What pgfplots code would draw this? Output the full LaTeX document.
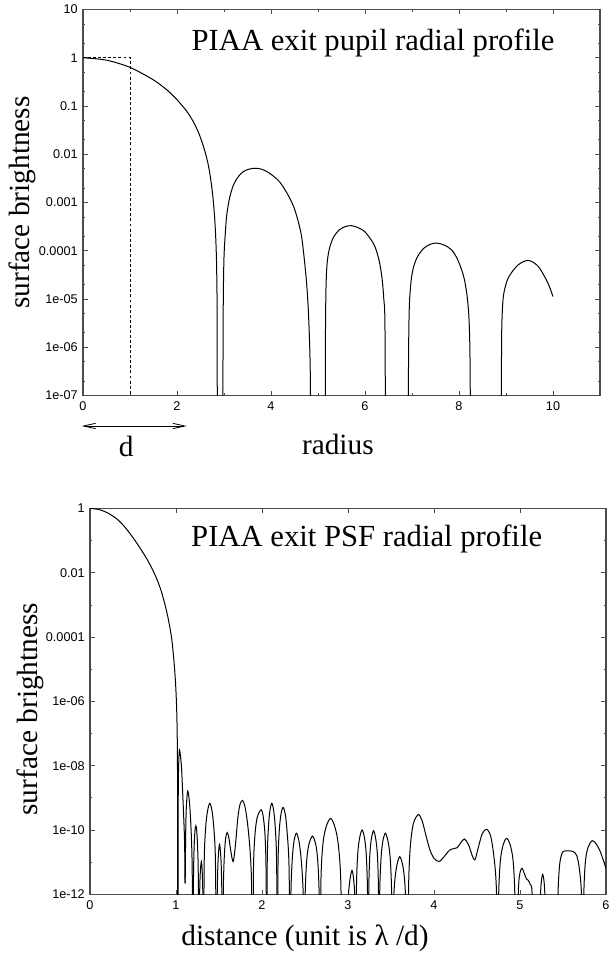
\documentclass[border=0pt]{standalone}
\usepackage{fontspec}
\setmainfont{Liberation Serif}
\setsansfont{Liberation Sans}
\usepackage{pgfplots}
\pgfplotsset{compat=1.18}
\usetikzlibrary{arrows.meta}

% y values are log10(surface brightness); ticks are labelled as on a log axis
\pgfplotsset{
  gp/.style={
    scale only axis,
    axis line style={black!70, line width=0.8pt},
    tick style={black!70, line width=0.6pt},
    tick align=inside,
    major tick length=3.4pt,
    minor tick length=1.8pt,
    ticklabel style={font=\sffamily\fontsize{9.5}{10}\selectfont, inner sep=0pt},
    xticklabel style={anchor=north, yshift=-4.5pt},
    yticklabel style={anchor=east, xshift=-3.8pt},
    label style={font=\fontsize{22}{24}\selectfont},
  },
  curve/.style={black, line width=0.75pt, smooth, tension=0.5},
}

\begin{document}
\begin{tikzpicture}
\useasboundingbox (0,0) rectangle (457.5pt,717pt);

% ---- top: exit pupil ----
\begin{axis}[gp,
  at={(62.25pt,420.375pt)}, anchor=south west,
  width=387.75pt, height=289.5pt,
  xmin=0, xmax=11, ymin=-7, ymax=1,
  xtick={0,2,...,10}, xticklabels={0,2,4,6,8,10},
  minor xtick={1,3,5,7,9},
  ytick={-7,...,1},
  yticklabels={1e-07,1e-06,1e-05,0.0001,0.001,0.01,0.1,1,10},
  minor ytick={-6.699,-6.301,-5.699,-5.301,-4.699,-4.301,-3.699,-3.301,
               -2.699,-2.301,-1.699,-1.301,-0.699,-0.301,0.301,0.699},
  xlabel={radius},
  xlabel style={at={(axis description cs:0.493,-0.154)}, anchor=base},
  ylabel={surface brightness},
  ylabel style={at={(axis description cs:-0.118,0.5)}, anchor=center},
]
\addplot[black, line width=0.6pt, dash pattern=on 2.2pt off 1.6pt]
  coordinates {(0,0) (1,0) (1,-7.5)};

\addplot[curve] coordinates {
  (0,0) (0.5,-0.05) (1.0,-0.2) (1.5,-0.46) (1.8,-0.68) (2.0,-0.87)
  (2.2,-1.1) (2.35,-1.33) (2.47,-1.58) (2.57,-1.86) (2.65,-2.15)
  (2.71,-2.47) (2.76,-2.85) (2.80,-3.3) (2.825,-3.75) (2.84,-4.2)
  (2.85,-4.8) (2.855,-5.6) (2.858,-9)
};
\addplot[curve] coordinates {
  (2.975,-9) (2.978,-6.5) (2.985,-5.0) (3.0,-4.13) (3.03,-3.6) (3.06,-3.25)
  (3.12,-2.9) (3.2,-2.64) (3.3,-2.47) (3.41,-2.36) (3.53,-2.31) (3.66,-2.29)
  (3.8,-2.31) (3.98,-2.40) (4.19,-2.58) (4.36,-2.84) (4.48,-3.08) (4.57,-3.36)
  (4.65,-3.7) (4.71,-4.19) (4.76,-4.7) (4.80,-5.36) (4.835,-6.5) (4.855,-9)
};
\addplot[curve] coordinates {
  (5.153,-9) (5.156,-6.5) (5.162,-5.3) (5.175,-4.6) (5.2,-4.2) (5.25,-3.93)
  (5.33,-3.72) (5.45,-3.57) (5.58,-3.50) (5.71,-3.48) (5.85,-3.52) (5.99,-3.60)
  (6.12,-3.76) (6.21,-3.91) (6.30,-4.2) (6.36,-4.55) (6.40,-5.0) (6.425,-5.6)
  (6.44,-9)
};
\addplot[curve] coordinates {
  (6.92,-9) (6.925,-6.5) (6.935,-5.5) (6.95,-5.0) (6.99,-4.55) (7.05,-4.28)
  (7.13,-4.10) (7.25,-3.95) (7.38,-3.87) (7.52,-3.84) (7.68,-3.88) (7.84,-3.98)
  (7.97,-4.18) (8.09,-4.50) (8.16,-4.85) (8.21,-5.36) (8.235,-6.3) (8.25,-9)
};
\addplot[curve] coordinates {
  (8.90,-9) (8.903,-6.5) (8.91,-5.6) (8.93,-5.1) (8.96,-4.85) (9.03,-4.6)
  (9.12,-4.45) (9.25,-4.3) (9.36,-4.23) (9.47,-4.20) (9.58,-4.24) (9.69,-4.33)
  (9.8,-4.5) (9.91,-4.71) (10.0,-4.95)
};

\node[anchor=base west, font=\fontsize{23}{25}\selectfont]
  at (rel axis cs:0.201,0.895) {PIAA exit pupil radial profile};
\end{axis}

% ---- bottom: PSF ----
\begin{axis}[gp,
  at={(67.5pt,46.275pt)}, anchor=south west,
  width=387pt, height=289.35pt,
  xmin=0, xmax=6, ymin=-12, ymax=0,
  xtick={0,...,6}, xticklabels={0,1,2,3,4,5,6},
  ytick={-12,-10,...,0},
  yticklabels={1e-12,1e-10,1e-08,1e-06,0.0001,0.01,1},
  minor ytick={-11,-9,-7,-5,-3,-1},
  xlabel={distance (unit is λ /d)},
  xlabel style={at={(axis description cs:0.4167,-0.134)}, anchor=base},
  ylabel={surface brightness},
  ylabel style={at={(axis description cs:-0.116,0.48)}, anchor=center},
]
\addplot[curve] coordinates {
  (0,0) (0.1,-0.03) (0.2,-0.13) (0.31,-0.32) (0.4,-0.56) (0.49,-0.87)
  (0.58,-1.22) (0.659,-1.56) (0.72,-1.86) (0.775,-2.18) (0.82,-2.5)
  (0.853,-2.8) (0.885,-3.13) (0.911,-3.45) (0.95,-4.05) (0.981,-4.9)
  (1.0,-5.7) (1.012,-6.7) (1.018,-8.5) (1.02,-14)
};
\addplot[curve] coordinates {
  (1.022,-14) (1.026,-9.0) (1.032,-7.9) (1.040,-7.51) (1.050,-7.65)
  (1.065,-8.1) (1.085,-9.3) (1.100,-10.4) (1.105,-11.66)
};
\addplot[curve] coordinates {
  (1.107,-11.66) (1.112,-10.2) (1.120,-9.3) (1.136,-8.79) (1.155,-9.1)
  (1.172,-9.8) (1.187,-11.0) (1.198,-14)
};
\addplot[curve] coordinates {
  (1.200,-14) (1.203,-11.6) (1.21,-10.6) (1.22,-10.05) (1.231,-9.87)
  (1.242,-10.05) (1.252,-10.6) (1.259,-11.4) (1.264,-14)
};
\addplot[curve] coordinates {
  (1.268,-14) (1.275,-12.0) (1.283,-11.3) (1.295,-10.98) (1.305,-11.3)
  (1.312,-12.0) (1.318,-14)
};
\addplot[curve] coordinates {
  (1.322,-14) (1.328,-11.0) (1.344,-9.95) (1.366,-9.42) (1.393,-9.17)
  (1.42,-9.42) (1.44,-9.95) (1.458,-10.9) (1.469,-14)
};
\addplot[curve] coordinates {
  (1.475,-14) (1.479,-12.1) (1.487,-11.1) (1.496,-10.65) (1.506,-10.45)
  (1.516,-10.65) (1.526,-11.1) (1.534,-12.1) (1.539,-14)
};
\addplot[curve] coordinates {
  (1.545,-14) (1.550,-11.9) (1.562,-10.8) (1.578,-10.25) (1.595,-10.08)
  (1.615,-10.25) (1.64,-10.7) (1.665,-10.98) (1.69,-10.5) (1.72,-9.6)
  (1.745,-9.2) (1.773,-9.08) (1.80,-9.25) (1.83,-9.75) (1.86,-10.6)
  (1.878,-11.6) (1.888,-14)
};
\addplot[curve] coordinates {
  (1.895,-14) (1.901,-11.2) (1.918,-10.15) (1.945,-9.6) (1.99,-9.37)
  (2.015,-9.6) (2.035,-10.15) (2.047,-11.2) (2.054,-14)
};
\addplot[curve] coordinates {
  (2.056,-14) (2.061,-11.0) (2.074,-9.95) (2.092,-9.4) (2.114,-9.17)
  (2.136,-9.4) (2.155,-9.95) (2.170,-11.0) (2.178,-14)
};
\addplot[curve] coordinates {
  (2.180,-14) (2.186,-11.1) (2.2,-10.05) (2.22,-9.52) (2.245,-9.30)
  (2.27,-9.5) (2.29,-10.0) (2.314,-11.1) (2.326,-14)
};
\addplot[curve] coordinates {
  (2.330,-14) (2.337,-11.9) (2.352,-10.9) (2.372,-10.35) (2.400,-10.10)
  (2.43,-10.35) (2.455,-10.9) (2.478,-11.9) (2.492,-14)
};
\addplot[curve] coordinates {
  (2.495,-14) (2.502,-12.0) (2.52,-10.95) (2.545,-10.45) (2.587,-10.19)
  (2.625,-10.45) (2.648,-10.95) (2.665,-12.0) (2.674,-14)
};
\addplot[curve] coordinates {
  (2.678,-14) (2.686,-11.5) (2.71,-10.4) (2.748,-9.88) (2.798,-9.64)
  (2.845,-9.88) (2.885,-10.4) (2.915,-11.5) (2.930,-14)
};
\addplot[curve] coordinates {
  (2.992,-14) (3.0,-12.3) (3.02,-11.6) (3.047,-11.26) (3.068,-11.6)
  (3.082,-12.3) (3.089,-14)
};
\addplot[curve] coordinates {
  (3.092,-14) (3.098,-11.8) (3.113,-10.75) (3.135,-10.25) (3.164,-10.0)
  (3.192,-10.25) (3.212,-10.75) (3.226,-11.8) (3.233,-14)
};
\addplot[curve] coordinates {
  (3.236,-14) (3.242,-11.8) (3.254,-10.77) (3.272,-10.27) (3.297,-10.02)
  (3.322,-10.27) (3.342,-10.77) (3.354,-11.8) (3.360,-14)
};
\addplot[curve] coordinates {
  (3.363,-14) (3.369,-11.9) (3.385,-10.85) (3.405,-10.35) (3.434,-10.10)
  (3.465,-10.35) (3.49,-10.85) (3.507,-11.9) (3.515,-14)
};
\addplot[curve] coordinates {
  (3.52,-14) (3.527,-12.4) (3.545,-11.55) (3.57,-11.08) (3.602,-10.83)
  (3.635,-11.08) (3.658,-11.55) (3.674,-12.4) (3.682,-14)
};
\addplot[curve] coordinates {
  (3.698,-14) (3.705,-11.7) (3.725,-10.5) (3.76,-9.8) (3.818,-9.52)
  (3.86,-9.7) (3.9,-10.1) (3.95,-10.6) (4.0,-10.88) (4.06,-10.98)
  (4.12,-10.82) (4.18,-10.63) (4.23,-10.58) (4.27,-10.55) (4.31,-10.40)
  (4.353,-10.28) (4.40,-10.45) (4.445,-10.8) (4.475,-10.93) (4.51,-10.6)
  (4.56,-10.12) (4.612,-9.98) (4.66,-10.2) (4.70,-10.9) (4.725,-11.8)
  (4.740,-14)
};
\addplot[curve] coordinates {
  (4.745,-14) (4.752,-12.0) (4.772,-10.95) (4.805,-10.45) (4.845,-10.26)
  (4.885,-10.45) (4.92,-10.95) (4.94,-12.0) (4.95,-14)
};
\addplot[curve] coordinates {
  (4.969,-14) (4.975,-12.4) (4.99,-11.5) (5.019,-11.19) (5.05,-11.35)
  (5.075,-11.52) (5.097,-11.57) (5.12,-11.7) (5.14,-11.95) (5.155,-14)
};
\addplot[curve] coordinates {
  (5.225,-14) (5.232,-12.5) (5.245,-11.7) (5.264,-11.38) (5.283,-11.7)
  (5.295,-12.5) (5.302,-14)
};
\addplot[curve] coordinates {
  (5.434,-14) (5.442,-12.0) (5.46,-11.1) (5.485,-10.75) (5.51,-10.66)
  (5.56,-10.65) (5.62,-10.67) (5.66,-10.8) (5.69,-11.2) (5.715,-12.0)
  (5.729,-14)
};
\addplot[curve] coordinates {
  (5.735,-14) (5.742,-12.0) (5.76,-11.0) (5.79,-10.55) (5.841,-10.33)
  (5.89,-10.45) (5.93,-10.65) (5.97,-10.95) (6.0,-11.2)
};

\node[anchor=base west, font=\fontsize{23}{25}\selectfont]
  at (rel axis cs:0.187,0.901) {PIAA exit PSF radial profile};
\end{axis}

% width marker under the top axis
\draw[black, line width=0.6pt,
  {Straight Barb[length=9pt,width=4pt]}-{Straight Barb[length=9pt,width=4pt]}]
  (61.3pt,397.5pt) -- (140pt,397.5pt);
\node[anchor=base, font=\fontsize{22}{24}\selectfont] at (94.7pt,374.5pt) {d};
\end{tikzpicture}
\end{document}
